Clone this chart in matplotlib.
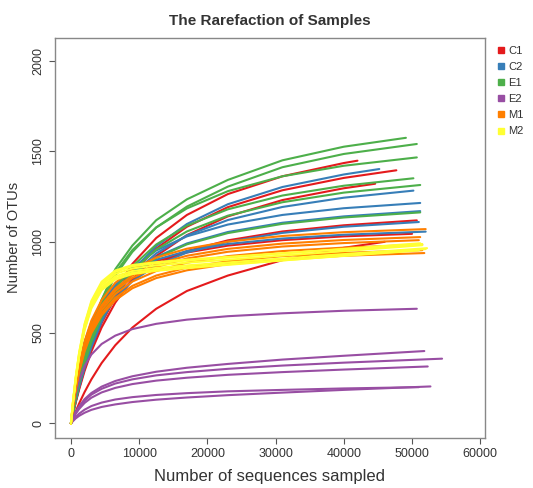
import matplotlib
matplotlib.use("Agg")
import matplotlib.pyplot as plt
from matplotlib.lines import Line2D

plt.rcParams['font.family'] = ['Liberation Sans', 'DejaVu Sans']

# sequencing depths shared by every curve; each curve adds its own last depth
depths = [0, 300, 700, 1200, 2000, 3000, 4500, 6500, 9000, 12500, 17000, 23000, 31000, 40000]

groups = ['C1', 'C2', 'E1', 'E2', 'M1', 'M2']
group_colors = ['#E41A1C', '#377EB8', '#4DAF4A', '#984EA3', '#FF7F00', '#FFFF33']

# (last depth, OTUs at each depth incl. the last one)
C1 = [
    (42000, [0, 57, 127, 207, 320, 440, 586, 737, 879, 1022, 1149, 1264, 1362, 1435, 1448]),
    (47700, [0, 54, 120, 195, 301, 415, 553, 695, 829, 964, 1084, 1192, 1285, 1353, 1395]),
    (44600, [0, 51, 115, 187, 289, 397, 529, 666, 794, 923, 1038, 1141, 1231, 1296, 1321]),
    (50700, [0, 70, 151, 238, 351, 461, 582, 695, 790, 878, 950, 1009, 1058, 1092, 1119]),
    (46000, [0, 29, 66, 110, 173, 243, 333, 431, 528, 632, 730, 815, 900, 968, 1001]),
    (50000, [0, 101, 210, 317, 443, 554, 665, 758, 831, 894, 942, 980, 1010, 1031, 1045]),
]
C2 = [
    (45200, [0, 54, 121, 198, 306, 420, 560, 705, 841, 977, 1099, 1208, 1303, 1372, 1402]),
    (50200, [0, 60, 133, 214, 325, 439, 572, 704, 822, 937, 1036, 1121, 1193, 1244, 1283]),
    (51200, [0, 76, 164, 258, 381, 500, 632, 754, 858, 953, 1031, 1096, 1149, 1186, 1215]),
    (51200, [0, 73, 158, 248, 367, 482, 608, 726, 825, 917, 992, 1055, 1106, 1141, 1170]),
    (52000, [0, 102, 212, 319, 447, 559, 671, 765, 839, 902, 950, 989, 1019, 1040, 1057]),
    (51000, [0, 69, 150, 236, 348, 457, 577, 689, 784, 871, 942, 1001, 1050, 1084, 1110]),
]
E1 = [
    (49100, [0, 70, 155, 250, 380, 520, 680, 850, 980, 1120, 1235, 1342, 1450, 1525, 1574]),
    (50700, [0, 68, 150, 242, 368, 502, 655, 815, 945, 1080, 1195, 1305, 1412, 1485, 1540]),
    (50700, [0, 72, 160, 258, 390, 525, 680, 830, 955, 1080, 1185, 1280, 1362, 1420, 1466]),
    (50200, [0, 63, 140, 225, 342, 462, 602, 741, 866, 986, 1090, 1180, 1256, 1310, 1351]),
    (51200, [0, 61, 136, 219, 332, 448, 585, 719, 840, 958, 1058, 1145, 1219, 1272, 1314]),
    (51200, [0, 72, 157, 247, 365, 479, 605, 722, 821, 912, 987, 1049, 1100, 1135, 1163]),
]
E2 = [
    (50700, [0, 82, 163, 237, 316, 380, 438, 484, 520, 549, 572, 591, 607, 621, 632]),
    (51800, [0, 30, 63, 95, 134, 168, 203, 234, 260, 285, 307, 328, 352, 373, 399]),
    (54400, [0, 28, 60, 90, 126, 159, 191, 220, 243, 265, 283, 301, 319, 335, 357]),
    (52300, [0, 25, 53, 80, 113, 142, 171, 196, 217, 236, 252, 268, 283, 297, 314]),
    (52700, [0, 13, 28, 42, 59, 75, 91, 105, 118, 131, 143, 156, 170, 185, 204]),
    (51000, [0, 17, 36, 54, 76, 96, 115, 132, 145, 157, 167, 177, 185, 193, 200]),
]
M1 = [
    (52000, [0, 103, 214, 324, 453, 567, 680, 775, 850, 914, 963, 1002, 1033, 1054, 1071]),
    (51200, [0, 99, 206, 311, 435, 544, 652, 744, 815, 877, 924, 962, 991, 1011, 1027]),
    (51800, [0, 90, 188, 284, 397, 497, 596, 679, 745, 801, 844, 878, 905, 924, 939]),
    (51500, [0, 95, 197, 298, 417, 521, 625, 713, 782, 840, 886, 922, 950, 969, 985]),
    (51000, [0, 97, 202, 305, 428, 535, 641, 731, 802, 862, 909, 946, 975, 994, 1010]),
    (51500, [0, 92, 191, 289, 404, 506, 607, 692, 758, 815, 859, 894, 922, 940, 955]),
]
M2 = [
    (51200, [0, 119, 253, 387, 543, 668, 773, 835, 866, 883, 898, 914, 937, 962, 993]),
    (52200, [0, 116, 246, 375, 527, 649, 750, 811, 840, 857, 871, 887, 909, 933, 966]),
    (51500, [0, 118, 250, 381, 535, 659, 762, 824, 854, 871, 886, 902, 925, 950, 982]),
    (51000, [0, 114, 243, 371, 521, 641, 741, 801, 830, 847, 861, 877, 899, 923, 953]),
    (51500, [0, 121, 256, 391, 549, 676, 781, 843, 873, 889, 903, 918, 938, 960, 989]),
    (52000, [0, 113, 240, 367, 515, 634, 734, 793, 823, 841, 856, 874, 898, 925, 961]),
]
curves = [C1, C2, E1, E2, M1, M2]

fig = plt.figure(figsize=(5.33, 4.88), dpi=100)
ax = fig.add_axes([0.103, 0.1025, 0.807, 0.82])

for samples, color in zip(curves, group_colors):
    for end, otus in samples:
        ax.plot(depths + [end], otus, color=color, lw=1.5,
                solid_capstyle='round', solid_joinstyle='round')

txt = '#333333'
ax.set_xlim(-2350, 60700)
ax.set_ylim(-80, 2125)
ax.set_xticks(range(0, 60001, 10000))
ax.set_yticks(range(0, 2001, 500))
ax.tick_params(colors='#555555', labelcolor=txt, labelsize=9, length=4, width=0.8)
for lab in ax.get_yticklabels():
    lab.set_rotation(90)
    lab.set_va('center')
for s in ax.spines.values():
    s.set_color('#888888')
    s.set_linewidth(1.0)

ax.set_title('The Rarefaction of Samples', fontsize=11, fontweight='bold', color=txt, pad=9)
ax.set_xlabel('Number of sequences sampled', fontsize=12, color=txt, labelpad=6)
ax.set_ylabel('Number of OTUs', fontsize=10.5, color=txt, labelpad=8)

handles = [Line2D([], [], ls='none', marker='s', markersize=5, color=c) for c in group_colors]
fig.legend(handles, groups, loc='upper left', bbox_to_anchor=(0.925, 0.915),
           frameon=False, fontsize=8, handlelength=0.6, handletextpad=0.4,
           labelspacing=0.55, borderaxespad=0, labelcolor=txt)

fig.savefig('out.png', dpi=100)
